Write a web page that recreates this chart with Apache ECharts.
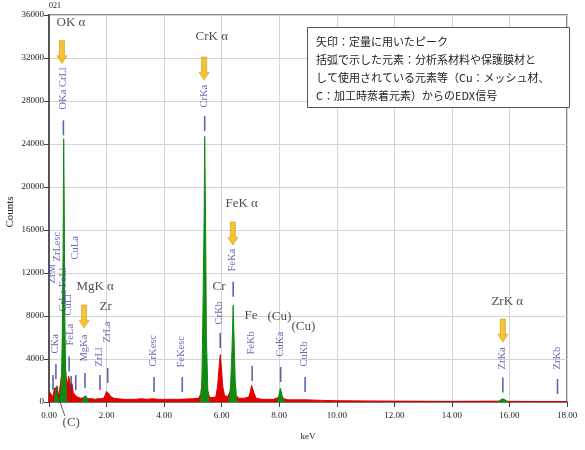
<!DOCTYPE html>
<html>
<head>
<meta charset="utf-8">
<script src="https://cdn.jsdelivr.net/npm/echarts@6/dist/echarts.min.js"></script>
<style>
  html, body { margin: 0; padding: 0; background: #fff; }
  #main { width: 585px; height: 450px; }
</style>
</head>
<body>
<div id="main"></div>
<script type="text/javascript">

// ---- data (keV, counts) ----
var redSpectrum = [
  [0.00, 0], [0.03, 900], [0.08, 700], [0.12, 400], [0.16, 900], [0.20, 1300], [0.24, 800],
  [0.28, 1500], [0.32, 700], [0.36, 900], [0.40, 1800], [0.44, 2600], [0.48, 3500], [0.52, 4000],
  [0.56, 3500], [0.60, 2200], [0.64, 1600], [0.68, 2400], [0.72, 2000], [0.76, 1200], [0.80, 1700],
  [0.84, 900], [0.88, 800], [0.92, 600], [0.96, 500], [1.00, 450], [1.10, 350], [1.20, 400],
  [1.30, 350], [1.40, 300], [1.50, 300], [1.60, 250], [1.70, 300], [1.75, 350], [1.80, 300],
  [1.90, 350], [1.95, 600], [2.00, 1000], [2.05, 1000], [2.10, 700], [2.15, 500], [2.25, 350],
  [2.40, 300], [2.60, 250], [2.80, 250], [3.00, 250], [3.20, 300], [3.40, 250], [3.60, 300],
  [3.80, 250], [4.00, 250], [4.50, 250], [5.00, 300], [5.20, 350], [5.28, 800], [5.34, 2500],
  [5.41, 3000], [5.50, 1200], [5.58, 450], [5.70, 400], [5.80, 500], [5.86, 1500], [5.91, 3200],
  [5.95, 4400], [5.99, 3200], [6.04, 1400], [6.10, 600], [6.20, 500], [6.30, 1000], [6.40, 1500],
  [6.50, 600], [6.60, 350], [6.80, 350], [6.95, 500], [7.00, 1000], [7.04, 1550], [7.08, 1500],
  [7.13, 800], [7.20, 350], [7.40, 250], [7.80, 250], [8.00, 450], [8.10, 350], [8.30, 200],
  [8.85, 200], [8.90, 350], [8.95, 200], [9.50, 150], [10.00, 120], [11.00, 100], [12.00, 80],
  [14.00, 60], [15.70, 80], [15.85, 80], [16.00, 60], [18.00, 40]
];

// green = peaks used for quantification / marked peaks
var peakCK  = [[0.18, 0], [0.23, 900], [0.27, 1400], [0.31, 800], [0.35, 0]];
var peakOK  = [[0.38, 0], [0.43, 1500], [0.46, 6000], [0.49, 14000], [0.51, 24500], [0.53, 18300],
               [0.55, 8000], [0.58, 2500], [0.62, 0]];
var peakMgK = [[1.15, 0], [1.21, 400], [1.26, 600], [1.31, 400], [1.37, 0]];
var peakCrK = [[5.25, 0], [5.31, 1500], [5.35, 8400], [5.39, 17000], [5.41, 24700], [5.44, 17000],
               [5.47, 6000], [5.52, 1000], [5.57, 0]];
var peakFeK = [[6.25, 0], [6.31, 1500], [6.36, 5000], [6.40, 9000], [6.43, 6000], [6.47, 2000],
               [6.52, 300], [6.56, 0]];
var peakCuK = [[7.92, 0], [7.98, 500], [8.04, 1300], [8.10, 600], [8.18, 0]];
var peakZrK = [[15.60, 0], [15.70, 200], [15.77, 300], [15.85, 200], [15.95, 0]];
var greenPeaks = [peakCK, peakOK, peakMgK, peakCrK, peakFeK, peakCuK, peakZrK];

// blue line markers: [keV, counts at centre]
var lineMarks = [
  [0.50, 25500], [0.14, 1810], [0.24, 2840], [0.70, 3530], [0.77, 1720], [0.93, 1810],
  [1.25, 2000], [1.77, 1810], [2.04, 2460], [3.65, 1630], [4.63, 1630], [5.41, 25900],
  [5.95, 5720], [6.40, 10500], [7.06, 2650], [8.05, 2560], [8.90, 1630], [15.77, 1580], [17.67, 1440]
];

// blue element labels: [name, keV, counts at start of text]
var lineNames = [
  ['OKa CrLl', 0.50, 27160], ['ZrM', 0.13, 10980], ['ZrLesc', 0.31, 13020], ['CrLa FeLl', 0.52, 8370],
  ['CuLa', 0.93, 13210], ['CuLl', 0.70, 8000], ['FeLa', 0.75, 5210], ['CKa', 0.22, 4470],
  ['MgKa', 1.25, 3720], ['ZrLl', 1.77, 3260], ['ZrLa', 2.04, 5490], ['CrKesc', 3.65, 3260],
  ['FeKesc', 4.63, 3160], ['CrKa', 5.41, 27350], ['CrKb', 5.95, 7160], ['FeKa', 6.40, 12090],
  ['FeKb', 7.06, 4370], ['CuKa', 8.05, 4190], ['CuKb', 8.90, 3260], ['ZrKa', 15.77, 2980],
  ['ZrKb', 17.67, 2980]
];

// orange arrows (peaks used for quantification): [keV, counts at tip]
var arrows = [[0.45, 31500], [5.39, 29950], [6.39, 14600], [1.22, 6880], [15.77, 5580]];

// black annotations: [text, keV (left), counts (middle)]
var notes = [
  ['OK α', 0.28, 35250], ['CrK α', 5.11, 33900], ['FeK α', 6.15, 18420], ['Cr', 5.70, 10650],
  ['Fe', 6.81, 8000], ['(Cu)', 7.61, 7860], ['(Cu)', 8.44, 6930], ['MgK α', 0.97, 10700],
  ['Zr', 1.77, 8790], ['ZrK α', 15.39, 9300], ['(C)', 0.49, -1950]
];
var leaderC = [[0.21, 1400], [0.55, -1300]];

var xTicks = ['0.00', '2.00', '4.00', '6.00', '8.00', '10.00', '12.00', '14.00', '16.00', '18.00'];

var boxLines = [
  '矢印：定量に用いたピーク',
  '括弧で示した元素：分析系材料や保護膜材と',
  'して使用されている元素等（Cu：メッシュ材、',
  'C：加工時蒸着元素）からのEDX信号'
];

// ---- chart ----
var chart = echarts.init(document.getElementById('main'));

var serif = 'Liberation Serif';
var series = [];

series.push({
  type: 'line', data: redSpectrum, symbol: 'none', silent: true,
  lineStyle: { color: '#e00000', width: 1 },
  areaStyle: { color: '#e00000', opacity: 1 },
  z: 2
});

greenPeaks.forEach(function (pk) {
  series.push({
    type: 'line', data: pk, symbol: 'none', silent: true,
    lineStyle: { color: '#108a10', width: 1 },
    areaStyle: { color: '#108a10', opacity: 1 },
    z: 3
  });
});

series.push({
  type: 'scatter', data: lineMarks, symbol: 'rect', symbolSize: [1.6, 15], silent: true,
  itemStyle: { color: '#3a3a9a' }, z: 4
});

series.push({
  type: 'scatter', silent: true, z: 5, symbolSize: 1,
  data: lineNames.map(function (d) { return { name: d[0], value: [d[1], d[2]] }; }),
  itemStyle: { color: 'rgba(0,0,0,0)' },
  label: {
    show: true, position: [0, 0], rotate: 90, align: 'left', verticalAlign: 'middle',
    formatter: '{b}', color: '#4545a5', fontFamily: serif, fontSize: 10.5
  }
});

series.push({
  type: 'scatter', data: arrows, silent: true, z: 6,
  symbol: 'path://M3,0 L9,0 L9,16 L12,16 L6,24 L0,16 L3,16 Z',
  symbolSize: [10, 23], symbolOffset: [0, '-50%'],
  itemStyle: { color: '#f2b400', borderColor: '#c88a00', borderWidth: 0.6 }
});

series.push({
  type: 'line', data: leaderC, symbol: 'none', silent: true, clip: false, z: 6,
  lineStyle: { color: '#333', width: 0.8 }
});

series.push({
  type: 'scatter', silent: true, clip: false, z: 7, symbolSize: 1,
  data: notes.map(function (d) { return { name: d[0], value: [d[1], d[2]] }; }),
  itemStyle: { color: 'rgba(0,0,0,0)' },
  label: {
    show: true, position: [0, 0], align: 'left', verticalAlign: 'middle',
    formatter: '{b}', color: '#222', fontFamily: serif, fontSize: 13
  }
});

var option = {
  backgroundColor: '#fff',
  animation: false,
  grid: {
    left: 49, right: 18, top: 15, bottom: 48, containLabel: false, outerBoundsMode: 'none',
    show: true, borderColor: '#888', borderWidth: 2
  },
  xAxis: {
    type: 'value', min: 0, max: 18, interval: 2,
    name: 'keV', nameLocation: 'middle', nameGap: 30,
    nameTextStyle: { fontFamily: serif, fontSize: 9, color: '#222' },
    axisLine: { show: true, lineStyle: { color: '#555', width: 1.5 } },
    axisTick: { show: true, inside: false, length: 5, lineStyle: { color: '#444' } },
    axisLabel: {
      fontFamily: serif, fontSize: 9, color: '#222', margin: 9,
      formatter: function (v) { return xTicks[Math.round(v / 2)]; }
    },
    splitLine: { show: true, lineStyle: { color: '#d4d4d4', width: 1 } }
  },
  yAxis: {
    type: 'value', min: 0, max: 36000, interval: 4000,
    axisLine: { show: true, lineStyle: { color: '#555', width: 2 } },
    axisTick: { show: true, inside: false, length: 5, lineStyle: { color: '#444' } },
    axisLabel: {
      fontFamily: serif, fontSize: 9, color: '#222', margin: 5,
      formatter: function (v) { return String(v); }
    },
    splitLine: { show: true, lineStyle: { color: '#d4d4d4', width: 1 } }
  },
  graphic: [
    { type: 'text', left: 49, top: 2, style: { text: '021', font: '8px ' + serif, fill: '#222' } },
    // y axis title
    { type: 'text', x: 10, y: 212, rotation: Math.PI / 2,
      style: { text: 'Counts', font: '11px ' + serif, fill: '#222', align: 'center', verticalAlign: 'middle' } },
    { type: 'rect', left: 307, top: 27, z: 100, shape: { width: 262, height: 80 },
      style: { fill: '#fff', stroke: '#555', lineWidth: 1 } },
    { type: 'text', left: 316, top: 33, z: 101,
      style: { text: boxLines.join('\n'), font: '11px "Noto Sans CJK JP"', fill: '#222', lineHeight: 18 } }
  ],
  series: series
};

chart.setOption(option);
</script>
</body>
</html>
